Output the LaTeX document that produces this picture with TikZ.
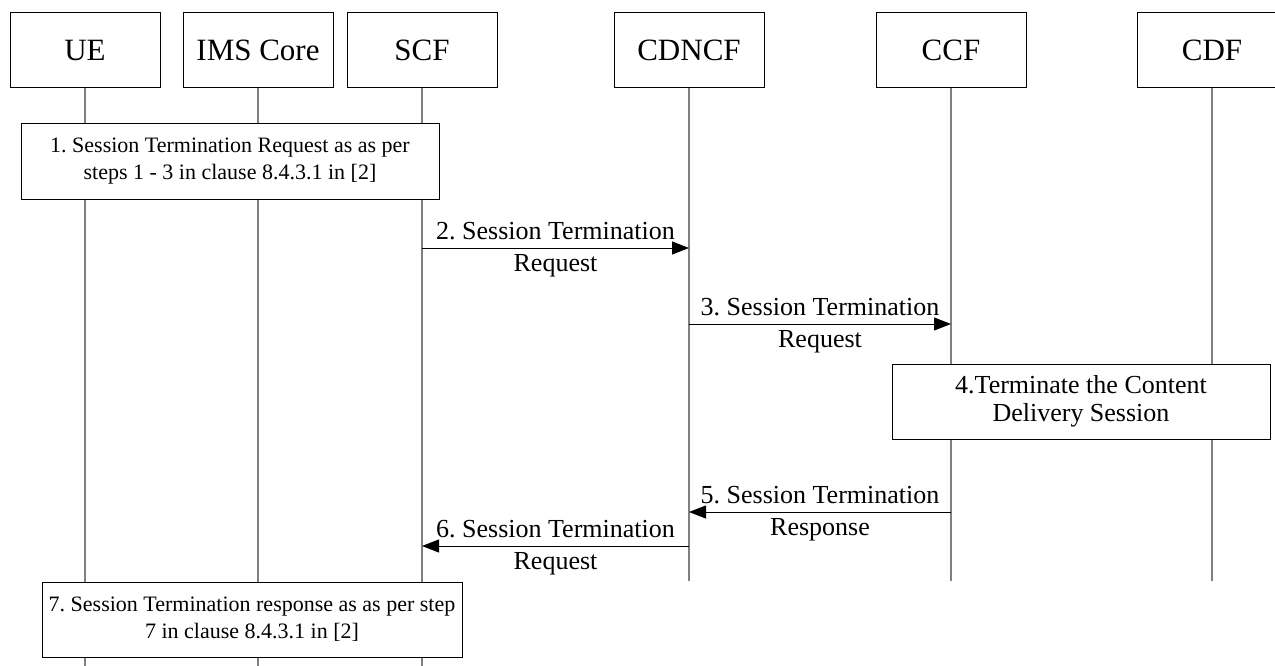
\documentclass[tikz,border=0pt]{standalone}
\usepackage{fontspec}
\setmainfont{Liberation Serif}
\usepackage{tikz}
\usetikzlibrary{arrows.meta,positioning}
\frenchspacing

\begin{document}
\begin{tikzpicture}[x=1pt, y=-1pt,
    entity/.style={rectangle, draw=black, line width=1pt, fill=white, minimum width=150pt, minimum height=75pt, font=\fontsize{31}{34}\selectfont},
    stepbox/.style={rectangle, draw=black, line width=1pt, fill=white, minimum height=75pt, align=center, inner sep=0pt, font=\fontsize{22}{27}\selectfont},
    lifeline/.style={draw=gray, line width=1.3pt},
    msg/.style={-{Triangle[length=17pt, width=13pt]}, line width=1pt},
    msglabel/.style={align=center, yshift=-2pt, font=\fontsize{26}{32}\selectfont}
]
\useasboundingbox (0,0) rectangle (1275,666);
\clip (0,0) rectangle (1275,666);

% Entities
\node[entity] (ue) at (85,50.5) {UE};
\node[entity] (ims) at (258,50.5) {IMS Core};
\node[entity] (scf) at (422,50.5) {SCF};
\node[entity] (cdncf) at (689,50.5) {CDNCF};
\node[entity] (ccf) at (951,50.5) {CCF};
\node[entity] (cdf) at (1212,50.5) {CDF};

% Lifelines
\coordinate (ueend) at (85,666);
\coordinate (imsend) at (258,666);
\coordinate (scfend) at (422,666);
\coordinate (cdncfend) at (689,581);
\coordinate (ccfend) at (951,581);
\coordinate (cdfend) at (1212,581);
\draw[lifeline] (ue) -- (ueend);
\draw[lifeline] (ims) -- (imsend);
\draw[lifeline] (scf) -- (scfend);
\draw[lifeline] (cdncf) -- (cdncfend);
\draw[lifeline] (ccf) -- (ccfend);
\draw[lifeline] (cdf) -- (cdfend);

% Steps
\node[stepbox, minimum width=418pt] (step1) at (230,161.5) {
    1. Session Termination Request as as per \\
    steps 1 - 3 in clause 8.4.3.1 in [2]
};

\node[stepbox, minimum width=378pt, font=\fontsize{26}{28}\selectfont] (step4) at (1081,401.5) {
    4.Terminate the Content \\
    Delivery Session
};

\node[stepbox, minimum width=420pt] (step7) at (252,619.5) {
    7. Session Termination response as as per step \\
    7 in clause 8.4.3.1 in [2]
};

% Messages
\draw[msg] (scf |- 0,248) -- node[msglabel] {2. Session Termination \\ Request} (cdncf |- 0,248);
\draw[msg] (cdncf |- 0,324) -- node[msglabel] {3. Session Termination \\ Request} (ccf |- 0,324);
\draw[msg] (ccf |- 0,512) -- node[msglabel] {5. Session Termination \\ Response} (cdncf |- 0,512);
\draw[msg] (cdncf |- 0,546) -- node[msglabel] {6. Session Termination \\ Request} (scf |- 0,546);

\end{tikzpicture}
\end{document}
